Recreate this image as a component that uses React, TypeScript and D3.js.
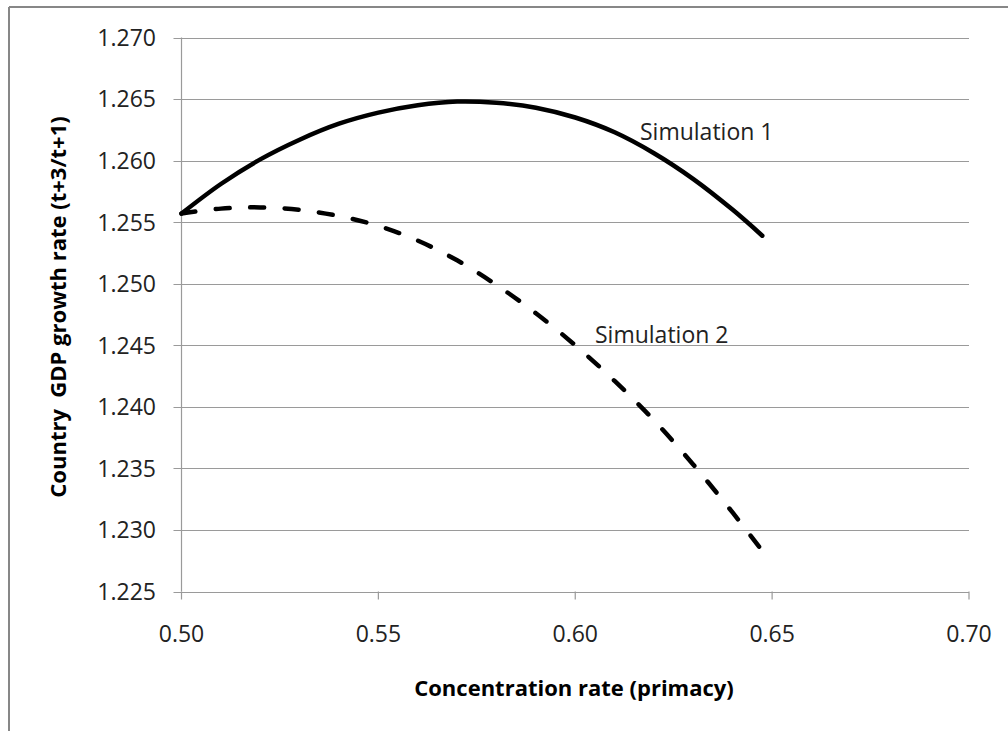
import React from "react";
import * as d3 from "d3";

const xTicks = [0.5, 0.55, 0.6, 0.65, 0.7];
const yTicks = [1.225, 1.23, 1.235, 1.24, 1.245, 1.25, 1.255, 1.26, 1.265, 1.27];

const sim1X = [0.5, 0.51, 0.52, 0.53, 0.54, 0.55, 0.56, 0.57, 0.58, 0.59, 0.6, 0.61, 0.62, 0.63, 0.64, 0.6475];
const sim1Y = [1.2557, 1.2581, 1.2601, 1.2617, 1.2630, 1.2639, 1.2645, 1.2648, 1.2647, 1.2643, 1.2635, 1.2623, 1.2606, 1.2585, 1.2560, 1.2539];

const sim2X = [0.5, 0.51, 0.52, 0.53, 0.54, 0.55, 0.56, 0.57, 0.58, 0.59, 0.6, 0.61, 0.62, 0.63, 0.64, 0.6475];
const sim2Y = [1.2557, 1.2561, 1.2562, 1.2560, 1.2555, 1.2547, 1.2535, 1.2519, 1.2499, 1.2476, 1.2450, 1.2421, 1.2389, 1.2353, 1.2314, 1.2283];

const seriesLabels = ["Simulation 1", "Simulation 2"];
const xTitle = "Concentration rate (primacy)";
const yTitle = "Country  GDP growth rate (t+3/t+1)";

export default function App() {
  const W = 1008, H = 731;
  const left = 181.5, right = 969, top = 37.5, bottom = 591.5;
  const x = d3.scaleLinear().domain([0.5, 0.7]).range([left, right]);
  const y = d3.scaleLinear().domain([1.225, 1.27]).range([bottom, top]);
  const line = d3.line<[number, number]>().x(d => x(d[0])).y(d => y(d[1])).curve(d3.curveCatmullRom.alpha(0.5));
  const s1 = sim1X.map((v, i) => [v, sim1Y[i]] as [number, number]);
  const s2 = sim2X.map((v, i) => [v, sim2Y[i]] as [number, number]);
  const font = "'Open Sans', sans-serif";
  const grid = "#9a9a9a";
  return (
    <svg width={W} height={H} style={{ position: "absolute", left: 0, top: 0, background: "#fff" }}>
      <rect x={0} y={0} width={W} height={H} fill="#fff" />
      <line x1={9} y1={7} x2={W} y2={7} stroke="#878787" strokeWidth={2} />
      <line x1={9} y1={7} x2={9} y2={H} stroke="#878787" strokeWidth={2} />
      {yTicks.map(t => (
        <g key={"y" + t}>
          <line x1={left - 8} x2={right} y1={Math.round(y(t)) + 0.5} y2={Math.round(y(t)) + 0.5} stroke={grid} strokeWidth={1.2} />
          <text x={156} y={y(t) + 8.4} textAnchor="end" fontFamily={font} fontSize={23} fill="#222">{t.toFixed(3)}</text>
        </g>
      ))}
      <line x1={left} x2={left} y1={top} y2={bottom} stroke={grid} strokeWidth={1.2} />
      {xTicks.map(t => (
        <g key={"x" + t}>
          <line x1={x(t)} x2={x(t)} y1={bottom} y2={bottom + 8} stroke={grid} strokeWidth={1.2} />
          <text x={x(t)} y={641.5} textAnchor="middle" fontFamily={font} fontSize={23} fill="#222">{t.toFixed(2)}</text>
        </g>
      ))}
      <path d={line(s1) || ""} fill="none" stroke="#000" strokeWidth={4.5} strokeLinecap="round" />
      <path d={line(s2) || ""} fill="none" stroke="#000" strokeWidth={4.5} strokeLinecap="round" strokeDasharray="14 20.5" />
      <text x={640} y={140} fontFamily={font} fontSize={23} fill="#222">{seriesLabels[0]}</text>
      <text x={595} y={343} fontFamily={font} fontSize={23} fill="#222">{seriesLabels[1]}</text>
      <text x={574} y={696} textAnchor="middle" fontFamily={font} fontWeight="bold" fontSize={22} fill="#000">{xTitle}</text>
      <text transform={`translate(66,307) rotate(-90)`} textAnchor="middle" fontFamily={font} fontWeight="bold" fontSize={22} fill="#000" style={{ whiteSpace: "pre" }}>{yTitle}</text>
    </svg>
  );
}
